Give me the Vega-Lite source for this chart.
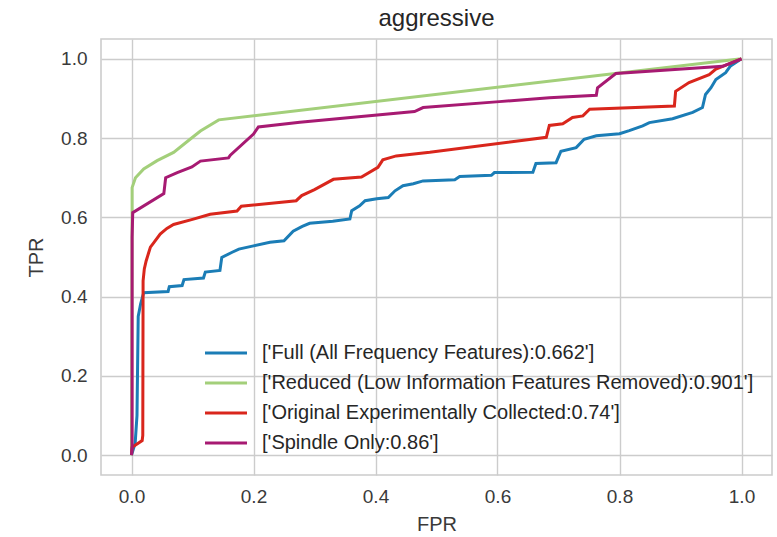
{
  "$schema": "https://vega.github.io/schema/vega-lite/v6.json",
  "autosize": {"type": "none"},
  "padding": {"left": 101, "top": 39, "right": 5, "bottom": 62},
  "width": 671,
  "height": 436,
  "background": "white",
  "title": {"text": "aggressive", "fontSize": 24, "fontWeight": "normal", "font": "Liberation Sans", "color": "#262626", "baseline": "alphabetic", "offset": 13, "dy": 24, "anchor": "middle"},
  "config": {
    "font": "Liberation Sans",
    "view": {"stroke": "#cccccc", "strokeWidth": 1.6},
    "axis": {"grid": true, "gridColor": "#cccccc", "gridWidth": 1.4, "domain": false, "ticks": false, "labelFontSize": 19, "labelColor": "#3a3a3a", "titleFontSize": 20, "titleFontWeight": "normal", "titleColor": "#3a3a3a"}
  },
  "datasets": {
    "roc": [
      {"m": "['Full (All Frequency Features):0.662']", "o": 0, "fpr": 0, "tpr": 0},
      {"m": "['Full (All Frequency Features):0.662']", "o": 1, "fpr": 0.006, "tpr": 0.03},
      {"m": "['Full (All Frequency Features):0.662']", "o": 2, "fpr": 0.009, "tpr": 0.1},
      {"m": "['Full (All Frequency Features):0.662']", "o": 3, "fpr": 0.011, "tpr": 0.35},
      {"m": "['Full (All Frequency Features):0.662']", "o": 4, "fpr": 0.015, "tpr": 0.382},
      {"m": "['Full (All Frequency Features):0.662']", "o": 5, "fpr": 0.02, "tpr": 0.41},
      {"m": "['Full (All Frequency Features):0.662']", "o": 6, "fpr": 0.06, "tpr": 0.413},
      {"m": "['Full (All Frequency Features):0.662']", "o": 7, "fpr": 0.062, "tpr": 0.425},
      {"m": "['Full (All Frequency Features):0.662']", "o": 8, "fpr": 0.083, "tpr": 0.428},
      {"m": "['Full (All Frequency Features):0.662']", "o": 9, "fpr": 0.086, "tpr": 0.443},
      {"m": "['Full (All Frequency Features):0.662']", "o": 10, "fpr": 0.118, "tpr": 0.447},
      {"m": "['Full (All Frequency Features):0.662']", "o": 11, "fpr": 0.121, "tpr": 0.462},
      {"m": "['Full (All Frequency Features):0.662']", "o": 12, "fpr": 0.145, "tpr": 0.466},
      {"m": "['Full (All Frequency Features):0.662']", "o": 13, "fpr": 0.148, "tpr": 0.499},
      {"m": "['Full (All Frequency Features):0.662']", "o": 14, "fpr": 0.165, "tpr": 0.512},
      {"m": "['Full (All Frequency Features):0.662']", "o": 15, "fpr": 0.176, "tpr": 0.52},
      {"m": "['Full (All Frequency Features):0.662']", "o": 16, "fpr": 0.2, "tpr": 0.528},
      {"m": "['Full (All Frequency Features):0.662']", "o": 17, "fpr": 0.227, "tpr": 0.537},
      {"m": "['Full (All Frequency Features):0.662']", "o": 18, "fpr": 0.25, "tpr": 0.541},
      {"m": "['Full (All Frequency Features):0.662']", "o": 19, "fpr": 0.265, "tpr": 0.565},
      {"m": "['Full (All Frequency Features):0.662']", "o": 20, "fpr": 0.28, "tpr": 0.577},
      {"m": "['Full (All Frequency Features):0.662']", "o": 21, "fpr": 0.292, "tpr": 0.585},
      {"m": "['Full (All Frequency Features):0.662']", "o": 22, "fpr": 0.33, "tpr": 0.59},
      {"m": "['Full (All Frequency Features):0.662']", "o": 23, "fpr": 0.358, "tpr": 0.596},
      {"m": "['Full (All Frequency Features):0.662']", "o": 24, "fpr": 0.361, "tpr": 0.617},
      {"m": "['Full (All Frequency Features):0.662']", "o": 25, "fpr": 0.374, "tpr": 0.629},
      {"m": "['Full (All Frequency Features):0.662']", "o": 26, "fpr": 0.383, "tpr": 0.642},
      {"m": "['Full (All Frequency Features):0.662']", "o": 27, "fpr": 0.402, "tpr": 0.647},
      {"m": "['Full (All Frequency Features):0.662']", "o": 28, "fpr": 0.421, "tpr": 0.65},
      {"m": "['Full (All Frequency Features):0.662']", "o": 29, "fpr": 0.432, "tpr": 0.667},
      {"m": "['Full (All Frequency Features):0.662']", "o": 30, "fpr": 0.445, "tpr": 0.68},
      {"m": "['Full (All Frequency Features):0.662']", "o": 31, "fpr": 0.462, "tpr": 0.685},
      {"m": "['Full (All Frequency Features):0.662']", "o": 32, "fpr": 0.478, "tpr": 0.692},
      {"m": "['Full (All Frequency Features):0.662']", "o": 33, "fpr": 0.53, "tpr": 0.695},
      {"m": "['Full (All Frequency Features):0.662']", "o": 34, "fpr": 0.538, "tpr": 0.703},
      {"m": "['Full (All Frequency Features):0.662']", "o": 35, "fpr": 0.59, "tpr": 0.706},
      {"m": "['Full (All Frequency Features):0.662']", "o": 36, "fpr": 0.595, "tpr": 0.713},
      {"m": "['Full (All Frequency Features):0.662']", "o": 37, "fpr": 0.658, "tpr": 0.714},
      {"m": "['Full (All Frequency Features):0.662']", "o": 38, "fpr": 0.663, "tpr": 0.736},
      {"m": "['Full (All Frequency Features):0.662']", "o": 39, "fpr": 0.696, "tpr": 0.738},
      {"m": "['Full (All Frequency Features):0.662']", "o": 40, "fpr": 0.704, "tpr": 0.767},
      {"m": "['Full (All Frequency Features):0.662']", "o": 41, "fpr": 0.729, "tpr": 0.776},
      {"m": "['Full (All Frequency Features):0.662']", "o": 42, "fpr": 0.742, "tpr": 0.797},
      {"m": "['Full (All Frequency Features):0.662']", "o": 43, "fpr": 0.762, "tpr": 0.806},
      {"m": "['Full (All Frequency Features):0.662']", "o": 44, "fpr": 0.8, "tpr": 0.811},
      {"m": "['Full (All Frequency Features):0.662']", "o": 45, "fpr": 0.816, "tpr": 0.819},
      {"m": "['Full (All Frequency Features):0.662']", "o": 46, "fpr": 0.838, "tpr": 0.831},
      {"m": "['Full (All Frequency Features):0.662']", "o": 47, "fpr": 0.849, "tpr": 0.839},
      {"m": "['Full (All Frequency Features):0.662']", "o": 48, "fpr": 0.887, "tpr": 0.849},
      {"m": "['Full (All Frequency Features):0.662']", "o": 49, "fpr": 0.92, "tpr": 0.865},
      {"m": "['Full (All Frequency Features):0.662']", "o": 50, "fpr": 0.936, "tpr": 0.877},
      {"m": "['Full (All Frequency Features):0.662']", "o": 51, "fpr": 0.941, "tpr": 0.91},
      {"m": "['Full (All Frequency Features):0.662']", "o": 52, "fpr": 0.95, "tpr": 0.927},
      {"m": "['Full (All Frequency Features):0.662']", "o": 53, "fpr": 0.958, "tpr": 0.948},
      {"m": "['Full (All Frequency Features):0.662']", "o": 54, "fpr": 0.974, "tpr": 0.965},
      {"m": "['Full (All Frequency Features):0.662']", "o": 55, "fpr": 0.982, "tpr": 0.982},
      {"m": "['Full (All Frequency Features):0.662']", "o": 56, "fpr": 1, "tpr": 1},

      {"m": "['Reduced (Low Information Features Removed):0.901']", "o": 0, "fpr": 0, "tpr": 0},
      {"m": "['Reduced (Low Information Features Removed):0.901']", "o": 1, "fpr": 0.001, "tpr": 0.61},
      {"m": "['Reduced (Low Information Features Removed):0.901']", "o": 2, "fpr": 0.001, "tpr": 0.675},
      {"m": "['Reduced (Low Information Features Removed):0.901']", "o": 3, "fpr": 0.0065, "tpr": 0.7},
      {"m": "['Reduced (Low Information Features Removed):0.901']", "o": 4, "fpr": 0.02, "tpr": 0.722},
      {"m": "['Reduced (Low Information Features Removed):0.901']", "o": 5, "fpr": 0.042, "tpr": 0.743},
      {"m": "['Reduced (Low Information Features Removed):0.901']", "o": 6, "fpr": 0.069, "tpr": 0.764},
      {"m": "['Reduced (Low Information Features Removed):0.901']", "o": 7, "fpr": 0.096, "tpr": 0.797},
      {"m": "['Reduced (Low Information Features Removed):0.901']", "o": 8, "fpr": 0.113, "tpr": 0.818},
      {"m": "['Reduced (Low Information Features Removed):0.901']", "o": 9, "fpr": 0.143, "tpr": 0.846},
      {"m": "['Reduced (Low Information Features Removed):0.901']", "o": 10, "fpr": 1, "tpr": 1},

      {"m": "['Original Experimentally Collected:0.74']", "o": 0, "fpr": 0, "tpr": 0},
      {"m": "['Original Experimentally Collected:0.74']", "o": 1, "fpr": 0.001, "tpr": 0.02},
      {"m": "['Original Experimentally Collected:0.74']", "o": 2, "fpr": 0.0175, "tpr": 0.037},
      {"m": "['Original Experimentally Collected:0.74']", "o": 3, "fpr": 0.0185, "tpr": 0.05},
      {"m": "['Original Experimentally Collected:0.74']", "o": 4, "fpr": 0.019, "tpr": 0.44},
      {"m": "['Original Experimentally Collected:0.74']", "o": 5, "fpr": 0.021, "tpr": 0.47},
      {"m": "['Original Experimentally Collected:0.74']", "o": 6, "fpr": 0.024, "tpr": 0.49},
      {"m": "['Original Experimentally Collected:0.74']", "o": 7, "fpr": 0.028, "tpr": 0.51},
      {"m": "['Original Experimentally Collected:0.74']", "o": 8, "fpr": 0.031, "tpr": 0.525},
      {"m": "['Original Experimentally Collected:0.74']", "o": 9, "fpr": 0.036, "tpr": 0.535},
      {"m": "['Original Experimentally Collected:0.74']", "o": 10, "fpr": 0.047, "tpr": 0.558},
      {"m": "['Original Experimentally Collected:0.74']", "o": 11, "fpr": 0.058, "tpr": 0.572},
      {"m": "['Original Experimentally Collected:0.74']", "o": 12, "fpr": 0.069, "tpr": 0.582},
      {"m": "['Original Experimentally Collected:0.74']", "o": 13, "fpr": 0.1, "tpr": 0.595},
      {"m": "['Original Experimentally Collected:0.74']", "o": 14, "fpr": 0.129, "tpr": 0.608},
      {"m": "['Original Experimentally Collected:0.74']", "o": 15, "fpr": 0.173, "tpr": 0.616},
      {"m": "['Original Experimentally Collected:0.74']", "o": 16, "fpr": 0.18, "tpr": 0.628},
      {"m": "['Original Experimentally Collected:0.74']", "o": 17, "fpr": 0.27, "tpr": 0.642},
      {"m": "['Original Experimentally Collected:0.74']", "o": 18, "fpr": 0.279, "tpr": 0.655},
      {"m": "['Original Experimentally Collected:0.74']", "o": 19, "fpr": 0.3, "tpr": 0.67},
      {"m": "['Original Experimentally Collected:0.74']", "o": 20, "fpr": 0.331, "tpr": 0.696},
      {"m": "['Original Experimentally Collected:0.74']", "o": 21, "fpr": 0.377, "tpr": 0.702},
      {"m": "['Original Experimentally Collected:0.74']", "o": 22, "fpr": 0.404, "tpr": 0.726},
      {"m": "['Original Experimentally Collected:0.74']", "o": 23, "fpr": 0.412, "tpr": 0.745},
      {"m": "['Original Experimentally Collected:0.74']", "o": 24, "fpr": 0.434, "tpr": 0.755},
      {"m": "['Original Experimentally Collected:0.74']", "o": 25, "fpr": 0.489, "tpr": 0.764},
      {"m": "['Original Experimentally Collected:0.74']", "o": 26, "fpr": 0.68, "tpr": 0.802},
      {"m": "['Original Experimentally Collected:0.74']", "o": 27, "fpr": 0.685, "tpr": 0.832},
      {"m": "['Original Experimentally Collected:0.74']", "o": 28, "fpr": 0.707, "tpr": 0.836},
      {"m": "['Original Experimentally Collected:0.74']", "o": 29, "fpr": 0.723, "tpr": 0.852},
      {"m": "['Original Experimentally Collected:0.74']", "o": 30, "fpr": 0.74, "tpr": 0.856},
      {"m": "['Original Experimentally Collected:0.74']", "o": 31, "fpr": 0.751, "tpr": 0.873},
      {"m": "['Original Experimentally Collected:0.74']", "o": 32, "fpr": 0.89, "tpr": 0.881},
      {"m": "['Original Experimentally Collected:0.74']", "o": 33, "fpr": 0.892, "tpr": 0.918},
      {"m": "['Original Experimentally Collected:0.74']", "o": 34, "fpr": 0.914, "tpr": 0.94},
      {"m": "['Original Experimentally Collected:0.74']", "o": 35, "fpr": 0.947, "tpr": 0.96},
      {"m": "['Original Experimentally Collected:0.74']", "o": 36, "fpr": 0.958, "tpr": 0.974},
      {"m": "['Original Experimentally Collected:0.74']", "o": 37, "fpr": 1, "tpr": 1},

      {"m": "['Spindle Only:0.86']", "o": 0, "fpr": 0, "tpr": 0},
      {"m": "['Spindle Only:0.86']", "o": 1, "fpr": 0.001, "tpr": 0.02},
      {"m": "['Spindle Only:0.86']", "o": 2, "fpr": 0.001, "tpr": 0.55},
      {"m": "['Spindle Only:0.86']", "o": 3, "fpr": 0.002, "tpr": 0.612},
      {"m": "['Spindle Only:0.86']", "o": 4, "fpr": 0.053, "tpr": 0.66},
      {"m": "['Spindle Only:0.86']", "o": 5, "fpr": 0.056, "tpr": 0.7},
      {"m": "['Spindle Only:0.86']", "o": 6, "fpr": 0.075, "tpr": 0.713},
      {"m": "['Spindle Only:0.86']", "o": 7, "fpr": 0.099, "tpr": 0.727},
      {"m": "['Spindle Only:0.86']", "o": 8, "fpr": 0.113, "tpr": 0.742},
      {"m": "['Spindle Only:0.86']", "o": 9, "fpr": 0.159, "tpr": 0.75},
      {"m": "['Spindle Only:0.86']", "o": 10, "fpr": 0.162, "tpr": 0.757},
      {"m": "['Spindle Only:0.86']", "o": 11, "fpr": 0.2, "tpr": 0.81},
      {"m": "['Spindle Only:0.86']", "o": 12, "fpr": 0.208, "tpr": 0.828},
      {"m": "['Spindle Only:0.86']", "o": 13, "fpr": 0.276, "tpr": 0.84},
      {"m": "['Spindle Only:0.86']", "o": 14, "fpr": 0.464, "tpr": 0.867},
      {"m": "['Spindle Only:0.86']", "o": 15, "fpr": 0.478, "tpr": 0.877},
      {"m": "['Spindle Only:0.86']", "o": 16, "fpr": 0.603, "tpr": 0.892},
      {"m": "['Spindle Only:0.86']", "o": 17, "fpr": 0.685, "tpr": 0.902},
      {"m": "['Spindle Only:0.86']", "o": 18, "fpr": 0.762, "tpr": 0.908},
      {"m": "['Spindle Only:0.86']", "o": 19, "fpr": 0.764, "tpr": 0.927},
      {"m": "['Spindle Only:0.86']", "o": 20, "fpr": 0.794, "tpr": 0.963},
      {"m": "['Spindle Only:0.86']", "o": 21, "fpr": 0.969, "tpr": 0.981},
      {"m": "['Spindle Only:0.86']", "o": 22, "fpr": 1, "tpr": 1}
    ]
  },
  "data": {"name": "roc"},
  "mark": {"type": "line", "strokeWidth": 3, "clip": true},
  "encoding": {
    "x": {"field": "fpr", "type": "quantitative", "scale": {"domain": [-0.05, 1.05], "nice": false, "zero": false},
      "axis": {"values": [0, 0.2, 0.4, 0.6, 0.8, 1.0], "format": ".1f", "title": "FPR", "labelPadding": 12, "titlePadding": 8}},
    "y": {"field": "tpr", "type": "quantitative", "scale": {"domain": [-0.05, 1.05], "nice": false, "zero": false},
      "axis": {"values": [0, 0.2, 0.4, 0.6, 0.8, 1.0], "format": ".1f", "title": "TPR", "labelPadding": 14, "titlePadding": 14}},
    "order": {"field": "o", "type": "quantitative"},
    "color": {"field": "m", "type": "nominal",
      "scale": {"domain": ["['Full (All Frequency Features):0.662']", "['Reduced (Low Information Features Removed):0.901']", "['Original Experimentally Collected:0.74']", "['Spindle Only:0.86']"],
        "range": ["#1b7db6", "#a3cf7a", "#d9261c", "#a71a72"]},
      "legend": {"title": null, "orient": "none", "legendX": 115, "legendY": 304, "symbolType": "M-3,0L3,0", "symbolSize": 196, "symbolStrokeWidth": 3, "labelOffset": 26, "labelFontSize": 20, "labelColor": "#262626", "labelLimit": 0, "rowPadding": 10, "padding": 0}}
  }
}
